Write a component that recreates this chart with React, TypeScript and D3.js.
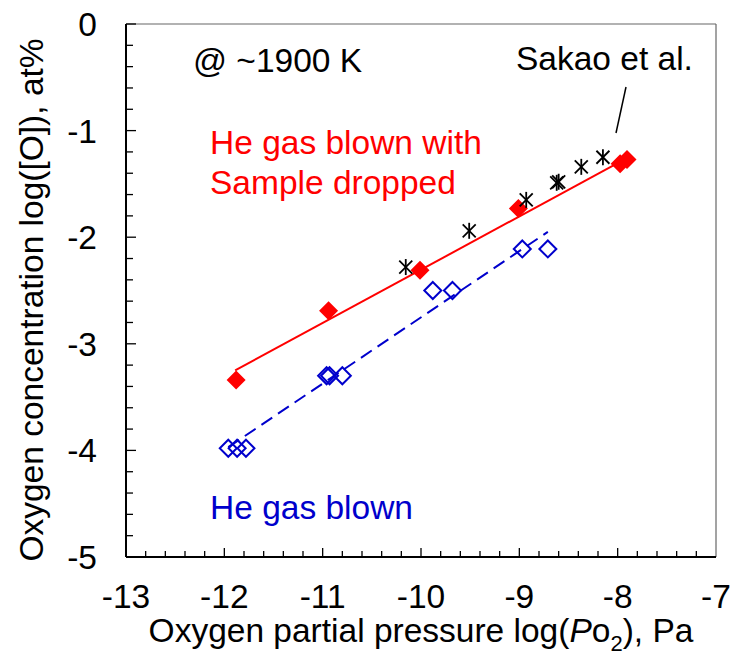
import React from 'react';
import { scaleLinear, range, line } from 'd3';

const W = 732;
const H = 656;
const plot = { left: 126, right: 716, top: 24, bottom: 557 };

// He gas blown with sample dropped (red filled diamonds)
const redX = [-11.88, -10.94, -10.01, -9.01, -7.975, -7.905];
const redY = [-3.34, -2.69, -2.31, -1.73, -1.31, -1.27];
// Sakao et al. (black asterisks)
const sakaoX = [-10.155, -9.51, -8.93, -8.62, -8.6, -8.37, -8.15];
const sakaoY = [-2.28, -1.94, -1.65, -1.49, -1.48, -1.34, -1.25];
// He gas blown (blue open diamonds)
const blueX = [-11.96, -11.87, -11.78, -10.96, -10.93, -10.8, -9.88, -9.68, -8.97, -8.71];
const blueY = [-3.98, -3.98, -3.98, -3.3, -3.3, -3.3, -2.5, -2.5, -2.11, -2.11];
// fitted lines
const redFitX = [-11.89, -7.93];
const redFitY = [-3.25, -1.27];
const blueFitX = [-11.96, -8.71];
const blueFitY = [-3.97, -1.95];

const xTicks = [-13, -12, -11, -10, -9, -8, -7];
const yTicks = [0, -1, -2, -3, -4, -5];

const RED = '#ff0000';
const BLUE = '#0000cc';
const FONT = 'Arial, "Liberation Sans", sans-serif';
const FS = 33.5;

export default function App() {
  const x = scaleLinear().domain([-13, -7]).range([plot.left, plot.right]);
  const y = scaleLinear().domain([-5, 0]).range([plot.bottom, plot.top]);

  const xMinor = range(-13, -7.001, 0.2);
  const yMinor = range(-5, 0.001, 0.2);

  const fitLine = line<[number, number]>()
    .x((d) => x(d[0]))
    .y((d) => y(d[1]));

  const diamond = (cx: number, cy: number, r: number) =>
    `M${cx},${cy - r}L${cx + r},${cy}L${cx},${cy + r}L${cx - r},${cy}Z`;

  return (
    <svg width={W} height={H} style={{ position: 'absolute', left: 0, top: 0, background: '#fff' }} fontFamily={FONT}>
      {/* frame */}
      <line x1={plot.left} x2={plot.right} y1={plot.top} y2={plot.top} stroke="#666" strokeWidth={1.2} />
      <line x1={plot.right} x2={plot.right} y1={plot.top} y2={plot.bottom} stroke="#666" strokeWidth={1.2} />
      <line x1={plot.left} x2={plot.right} y1={plot.bottom} y2={plot.bottom} stroke="#000" strokeWidth={2} />
      <line x1={plot.left} x2={plot.left} y1={plot.top} y2={plot.bottom} stroke="#000" strokeWidth={2} />

      {/* x ticks */}
      {xMinor.map((v, i) => {
        const major = i % 5 === 0;
        return (
          <line key={'xm' + i} x1={x(v)} x2={x(v)} y1={plot.bottom} y2={plot.bottom - (major ? 9 : 6)} stroke="#000" strokeWidth={1.3} />
        );
      })}
      {xTicks.map((v) => (
        <text key={'xt' + v} x={x(v)} y={608} fontSize={FS} textAnchor="middle">{v}</text>
      ))}

      {/* y ticks */}
      {yMinor.map((v, i) => {
        const major = i % 5 === 0;
        return (
          <line key={'ym' + i} x1={plot.left} x2={plot.left + (major ? 10 : 7)} y1={y(v)} y2={y(v)} stroke="#000" strokeWidth={1.3} />
        );
      })}
      {yTicks.map((v) => (
        <text key={'yt' + v} x={97} y={y(v) + 12} fontSize={FS} textAnchor="end">{v}</text>
      ))}

      {/* axis titles */}
      <text x={(plot.left + plot.right) / 2} y={642} fontSize={FS} textAnchor="middle">
        Oxygen partial pressure log(<tspan fontStyle="italic">P</tspan>o<tspan fontSize={22} dy={9}>2</tspan><tspan dy={-9}>), Pa</tspan>
      </text>
      <text transform={`translate(43,300) rotate(-90)`} fontSize={FS} textAnchor="middle">
        Oxygen concentration log([O]), at%
      </text>

      {/* fit lines */}
      <path d={fitLine(redFitX.map((v, i) => [v, redFitY[i]]) as [number, number][]) || ''} fill="none" stroke={RED} strokeWidth={2} />
      <path d={fitLine(blueFitX.map((v, i) => [v, blueFitY[i]]) as [number, number][]) || ''} fill="none" stroke={BLUE} strokeWidth={2} strokeDasharray="13,7" />

      {/* blue open diamonds */}
      {blueX.map((v, i) => (
        <path key={'b' + i} d={diamond(x(v), y(blueY[i]), 8.5)} fill="none" stroke={BLUE} strokeWidth={2} />
      ))}

      {/* red filled diamonds */}
      {redX.map((v, i) => (
        <path key={'r' + i} d={diamond(x(v), y(redY[i]), 9.5)} fill={RED} />
      ))}

      {/* Sakao asterisks */}
      {sakaoX.map((v, i) => {
        const cx = x(v);
        const cy = y(sakaoY[i]);
        const r = 8;
        const d = 6.5;
        return (
          <g key={'s' + i} stroke="#000" strokeWidth={1.8}>
            <line x1={cx} x2={cx} y1={cy - r} y2={cy + r} />
            <line x1={cx - d} x2={cx + d} y1={cy - d} y2={cy + d} />
            <line x1={cx - d} x2={cx + d} y1={cy + d} y2={cy - d} />
          </g>
        );
      })}

      {/* annotations */}
      <text x={193} y={72} fontSize={FS}>@ ~1900 K</text>
      <text x={516} y={70} fontSize={FS}>Sakao et al.</text>
      <line x1={626} y1={87} x2={616} y2={133} stroke="#000" strokeWidth={1.5} />
      <text x={210} y={154} fontSize={FS} fill={RED}>He gas blown with</text>
      <text x={210} y={194} fontSize={FS} fill={RED}>Sample dropped</text>
      <text x={210} y={519} fontSize={FS} fill={BLUE}>He gas blown</text>
    </svg>
  );
}
